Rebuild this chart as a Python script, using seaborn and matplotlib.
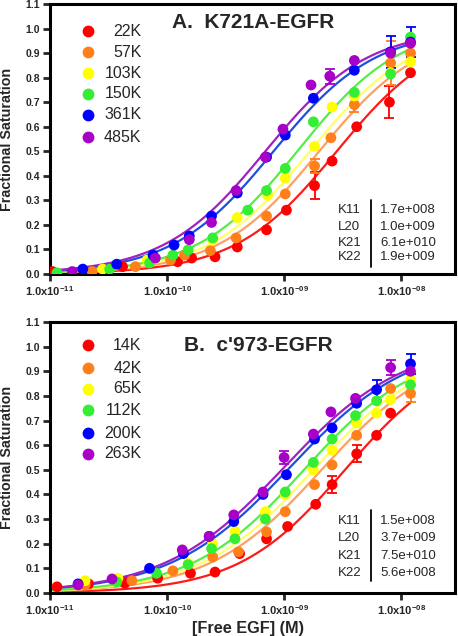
import numpy as np
import pandas as pd
import matplotlib
matplotlib.use("Agg")
import matplotlib.pyplot as plt
import seaborn as sns

# ---- data (log10 of free EGF concentration, fractional saturation) ----
labels_a = ["22K", "57K", "103K", "150K", "361K", "485K"]
labels_b = ["14K", "42K", "65K", "112K", "200K", "263K"]

point_colors = ["#ff0000", "#ff7f1a", "#ffff00", "#33ee33", "#0000ff", "#a800c8"]
line_colors = ["#ff1a1a", "#ffa060", "#ffff66", "#55ee44", "#1f4fdf", "#a020c0"]

logx_a = [
    [-10.98, -10.38, -9.91, -9.79, -9.59, -9.40, -9.15, -8.98, -8.74, -8.59, -8.38, -8.10, -7.92],
    [-10.64, -10.27, -9.97, -9.85, -9.63, -9.41, -9.15, -8.99, -8.74, -8.60, -8.40, -8.09, -7.92],
    [-10.55, -10.17, -9.61, -9.40, -9.14, -8.99, -8.74, -8.59, -8.40, -8.09, -7.92],
    [-10.94, -10.49, -10.15, -9.95, -9.82, -9.61, -9.31, -9.15, -8.99, -8.75, -8.40, -8.09, -7.92],
    [-10.72, -10.43, -10.12, -9.94, -9.81, -9.62, -9.40, -9.15, -8.99, -8.75, -8.40, -8.09, -7.92],
    [-10.81, -10.10, -9.81, -9.62, -9.41, -9.16, -9.01, -8.77, -8.61, -8.40, -8.09, -7.92],
]
y_a = [
    [0.01, 0.03, 0.05, 0.065, 0.07, 0.11, 0.18, 0.26, 0.36, 0.46, 0.60, 0.70, 0.82],
    [0.01, 0.03, 0.057, 0.077, 0.095, 0.147, 0.236, 0.326, 0.44, 0.555, 0.69, 0.86, 0.90],
    [0.02, 0.057, 0.14, 0.23, 0.32, 0.39, 0.52, 0.68, 0.725, 0.82, 0.865],
    [0.005, 0.02, 0.045, 0.077, 0.098, 0.147, 0.26, 0.34, 0.43, 0.62, 0.74, 0.815, 0.965],
    [0.02, 0.04, 0.077, 0.118, 0.155, 0.236, 0.33, 0.476, 0.566, 0.716, 0.83, 0.905, 0.945],
    [0.01, 0.065, 0.14, 0.21, 0.34, 0.476, 0.59, 0.77, 0.806, 0.87, 0.90, 0.94],
]
# error bars: (series index, log10 x, y, sd)
err_a = [
    (0, -8.74, 0.36, 0.055), (0, -8.10, 0.70, 0.065),
    (1, -8.74, 0.44, 0.03), (1, -8.40, 0.69, 0.03), (1, -8.09, 0.86, 0.09),
    (4, -8.09, 0.905, 0.065), (4, -7.92, 0.945, 0.06),
    (5, -8.61, 0.806, 0.03),
]
# fitted curves: log10 midpoint, slope, top
fit_a_logk = [-8.55, -8.70, -8.78, -8.87, -9.09, -9.16]
fit_a_n = [1.0, 1.0, 1.0, 1.0, 1.0, 1.0]
fit_a_top = [1.0, 1.0, 1.0, 1.02, 1.0, 1.0]

logx_b = [
    [-10.94, -10.67, -10.36, -10.08, -9.80, -9.59, -9.38, -9.15, -8.97, -8.73, -8.59, -8.38, -8.21, -8.09],
    [-10.70, -10.30, -9.95, -9.61, -9.39, -9.15, -8.99, -8.74, -8.59, -8.38, -8.09, -7.92],
    [-10.70, -10.42, -9.82, -9.61, -9.42, -9.16, -8.99, -8.75, -8.59, -8.38, -8.21, -8.09, -7.92],
    [-10.43, -10.09, -9.82, -9.62, -9.42, -9.16, -8.99, -8.75, -8.59, -8.39, -8.21, -7.92],
    [-10.76, -10.15, -9.86, -9.64, -9.43, -9.18, -8.98, -8.74, -8.59, -8.38, -8.21, -7.92],
    [-10.76, -10.47, -9.87, -9.64, -9.43, -9.18, -9.00, -8.75, -8.60, -8.39, -8.09, -7.92],
]
y_b = [
    [0.025, 0.037, 0.04, 0.06, 0.08, 0.085, 0.16, 0.22, 0.27, 0.36, 0.44, 0.565, 0.64, 0.73],
    [0.033, 0.05, 0.09, 0.146, 0.167, 0.248, 0.33, 0.44, 0.52, 0.64, 0.83, 0.81],
    [0.05, 0.06, 0.12, 0.20, 0.25, 0.33, 0.40, 0.50, 0.58, 0.69, 0.73, 0.785, 0.865],
    [0.045, 0.08, 0.115, 0.18, 0.22, 0.30, 0.41, 0.53, 0.625, 0.72, 0.78, 0.845],
    [0.037, 0.10, 0.16, 0.23, 0.29, 0.40, 0.48, 0.625, 0.67, 0.77, 0.825, 0.93],
    [0.033, 0.057, 0.175, 0.23, 0.317, 0.41, 0.55, 0.645, 0.735, 0.79, 0.915, 0.90],
]
err_b = [
    (0, -8.59, 0.44, 0.035), (0, -8.38, 0.565, 0.035),
    (1, -7.92, 0.81, 0.035),
    (4, -8.21, 0.825, 0.04), (4, -7.92, 0.93, 0.04),
    (5, -9.00, 0.55, 0.025), (5, -8.09, 0.915, 0.03),
]
fit_b_logk = [-8.48, -8.68, -8.75, -8.83, -8.95, -9.00]
fit_b_n = [0.95, 0.9, 0.9, 0.9, 0.85, 0.85]
fit_b_top = [1.0, 1.0, 1.0, 1.0, 1.02, 1.02]

param_names = ["K11", "L20", "K21", "K22"]
params_a = ["1.7e+008", "1.0e+009", "6.1e+010", "1.9e+009"]
params_b = ["1.5e+008", "3.7e+009", "7.5e+010", "5.6e+008"]

titles = ["A.  K721A-EGFR", "B.  c'973-EGFR"]

# ---- style ----
sns.set_theme(style="ticks")
plt.rcParams["font.family"] = ["Liberation Sans", "DejaVu Sans"]
plt.rcParams["mathtext.fontset"] = "custom"
plt.rcParams["mathtext.bf"] = "Liberation Sans:bold"
plt.rcParams["mathtext.rm"] = "Liberation Sans"

fig = plt.figure(figsize=(4.58, 6.36), dpi=100)
W, H = 458, 636


def axes_rect(left, top, right, bottom):
    return [left / W, 1 - bottom / H, (right - left) / W, (bottom - top) / H]


ax_a = fig.add_axes(axes_rect(50, 4, 455, 274))
ax_b = fig.add_axes(axes_rect(50, 322, 455, 593))


def draw_panel(ax, labels, logx, ys, errs, logk, nn, top, title, params, leg_rows, title_pos, table_rows, table_line):
    # fitted curves
    xs = np.logspace(-11, -7.92, 200)
    rows = []
    for i, lab in enumerate(labels):
        k = 10 ** logk[i]
        fy = top[i] * xs ** nn[i] / (xs ** nn[i] + k ** nn[i])
        rows.append(pd.DataFrame({"x": xs, "y": fy, "series": lab}))
    curves = pd.concat(rows, ignore_index=True)
    sns.lineplot(data=curves, x="x", y="y", hue="series", hue_order=labels,
                 palette=line_colors, linewidth=1.6, legend=False, ax=ax, zorder=2)

    # error bars
    for si, lx, yv, sd in errs:
        ax.errorbar([10 ** lx], [yv], yerr=[sd], fmt="none", ecolor=point_colors[si],
                    elinewidth=1.3, capsize=3.5, capthick=1.3, zorder=3)

    # points
    pts = pd.concat([pd.DataFrame({"x": 10 ** np.array(logx[i]), "y": ys[i], "series": lab})
                     for i, lab in enumerate(labels)], ignore_index=True)
    sns.scatterplot(data=pts, x="x", y="y", hue="series", hue_order=labels,
                    palette=point_colors, s=60, linewidth=0, legend=False, ax=ax, zorder=4)

    ax.set_xscale("log")
    ax.set_xlim(1e-11, 10 ** -7.54)
    ax.set_ylim(0, 1.1)
    ax.set_yticks(np.arange(0, 1.11, 0.1))
    ax.set_yticklabels([f"{v:.1f}" for v in np.arange(0, 1.11, 0.1)], fontsize=7.5, fontweight="bold")
    ticks = [1e-11, 1e-10, 1e-9, 1e-8]
    ax.set_xticks(ticks)
    ax.set_xticklabels([r"$\mathbf{1.0x10^{-%02d}}$" % e for e in [11, 10, 9, 8]], fontsize=8)
    ax.xaxis.set_minor_locator(matplotlib.ticker.NullLocator())
    ax.tick_params(axis="both", direction="out", length=5, width=2, pad=2)
    for sp in ax.spines.values():
        sp.set_linewidth(2.2)
        sp.set_color("black")
    ax.set_xlabel("")
    ax.set_ylabel("Fractional Saturation", fontsize=10.3, fontweight="bold")
    ax.yaxis.set_label_coords(-0.09, 0.5)

    # legend drawn by hand
    for i, lab in enumerate(labels):
        yy = leg_rows[i]
        ax.plot([0.093], [yy], "o", color=point_colors[i], markersize=8.5,
                markeredgewidth=0, transform=ax.transAxes, zorder=5)
        ax.text(0.226, yy, lab, transform=ax.transAxes, ha="right", va="center", fontsize=11.5)

    ax.text(title_pos[0], title_pos[1], title, transform=ax.transAxes, ha="left",
            va="center", fontsize=15, fontweight="bold")

    # parameter table
    for j, name in enumerate(param_names):
        ax.text(0.711, table_rows[j], name, transform=ax.transAxes, ha="left", va="center", fontsize=9.5)
        ax.text(0.815, table_rows[j], params[j], transform=ax.transAxes, ha="left", va="center", fontsize=9.5)
    ax.plot([0.793, 0.793], table_line, color="black", linewidth=1.3, transform=ax.transAxes)


draw_panel(ax_a, labels_a, logx_a, y_a, err_a, fit_a_logk, fit_a_n, fit_a_top, titles[0], params_a,
           [0.900, 0.822, 0.744, 0.667, 0.589, 0.507], (0.30, 0.93),
           [0.237, 0.174, 0.115, 0.063], [0.274, 0.026])
draw_panel(ax_b, labels_b, logx_b, y_b, err_b, fit_b_logk, fit_b_n, fit_b_top, titles[1], params_b,
           [0.915, 0.830, 0.753, 0.675, 0.590, 0.513], (0.332, 0.915),
           [0.266, 0.203, 0.137, 0.074], [0.306, 0.044])

fig.text(248 / W, 1 - 628 / H, "[Free EGF] (M)", ha="center", va="center", fontsize=11.7, fontweight="bold")

fig.savefig("out.png", dpi=100)
